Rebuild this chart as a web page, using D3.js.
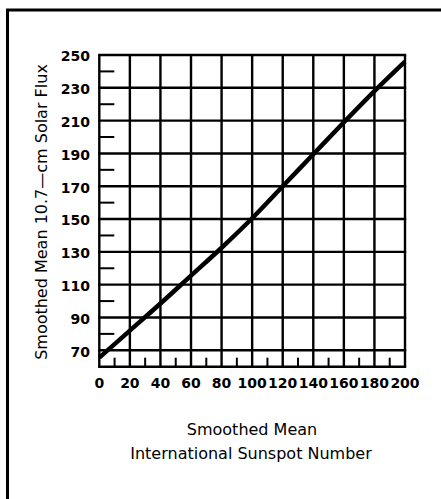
<!DOCTYPE html>
<html>
<head>
<meta charset="utf-8">
<script src="https://cdn.jsdelivr.net/npm/d3@7"></script>
<style>
  body { margin: 0; background: #fff; }
  svg { display: block; }
  .tick-label { font-family: "DejaVu Sans", sans-serif; font-weight: bold; font-size: 14px; fill: #000; }
  .axis-title { font-family: "DejaVu Sans", sans-serif; font-size: 16px; fill: #000; }
</style>
</head>
<body>
<div id="chart"></div>
<script>
// sunspot number vs flux
const sunspot = [0, 20, 40, 60, 80, 100, 120, 140, 160, 180, 200];
const flux = [65.5, 82, 98.5, 115.5, 132.5, 150.5, 170, 189.5, 209, 228, 246];

const xTicks = [0, 20, 40, 60, 80, 100, 120, 140, 160, 180, 200];
const xMinor = [10, 30, 50, 70, 90, 110, 130, 150, 170, 190];
const yTicks = [70, 90, 110, 130, 150, 170, 190, 210, 230, 250];
const yMinor = [80, 100, 120, 140, 160, 180, 200, 220, 240];

const width = 441, height = 499;
const margin = { top: 55, right: 36, bottom: 132.3, left: 99.3 };

const svg = d3.select("#chart").append("svg")
    .attr("width", width)
    .attr("height", height);

// outer frame (right and bottom edges fall outside the picture)
svg.append("rect")
    .attr("x", 7.5)
    .attr("y", 10)
    .attr("width", 600)
    .attr("height", 700)
    .attr("fill", "none")
    .attr("stroke", "#000")
    .attr("stroke-width", 3);

const xScale = d3.scaleLinear().domain([0, 200]).range([margin.left, width - margin.right]);
const yScale = d3.scaleLinear().domain([60, 250]).range([height - margin.bottom, margin.top]);

const g = svg.append("g");

// grid
g.selectAll("line.vgrid")
    .data(xTicks)
    .join("line")
    .attr("class", "vgrid")
    .attr("x1", d => xScale(d))
    .attr("x2", d => xScale(d))
    .attr("y1", yScale(250))
    .attr("y2", yScale(60))
    .attr("stroke", "#000")
    .attr("stroke-width", 2.4);

g.selectAll("line.hgrid")
    .data([60].concat(yTicks))
    .join("line")
    .attr("class", "hgrid")
    .attr("x1", xScale(0))
    .attr("x2", xScale(200))
    .attr("y1", d => yScale(d))
    .attr("y2", d => yScale(d))
    .attr("stroke", "#000")
    .attr("stroke-width", 2.4)
    .attr("stroke-linecap", "square");

// minor ticks
g.selectAll("line.xminor")
    .data(xMinor)
    .join("line")
    .attr("class", "xminor")
    .attr("x1", d => xScale(d))
    .attr("x2", d => xScale(d))
    .attr("y1", yScale(60))
    .attr("y2", yScale(60) - 9)
    .attr("stroke", "#000")
    .attr("stroke-width", 2);

g.selectAll("line.yminor")
    .data(yMinor)
    .join("line")
    .attr("class", "yminor")
    .attr("x1", xScale(0))
    .attr("x2", xScale(0) + 15)
    .attr("y1", d => yScale(d))
    .attr("y2", d => yScale(d))
    .attr("stroke", "#000")
    .attr("stroke-width", 2);

// tick labels
g.selectAll("text.xlab")
    .data(xTicks)
    .join("text")
    .attr("class", "tick-label xlab")
    .attr("x", d => xScale(d))
    .attr("y", 388)
    .attr("text-anchor", "middle")
    .text(d => d);

g.selectAll("text.ylab")
    .data(yTicks)
    .join("text")
    .attr("class", "tick-label ylab")
    .attr("x", 90)
    .attr("y", d => yScale(d) + 1.5)
    .attr("dy", "0.35em")
    .attr("text-anchor", "end")
    .text(d => d);

// the curve
const line = d3.line()
    .x((d, i) => xScale(sunspot[i]))
    .y(d => yScale(d))
    .curve(d3.curveMonotoneX);

g.append("path")
    .datum(flux)
    .attr("d", line)
    .attr("fill", "none")
    .attr("stroke", "#000")
    .attr("stroke-width", 4.5);

// axis titles
svg.append("text")
    .attr("class", "axis-title")
    .attr("x", 252)
    .attr("y", 435)
    .attr("text-anchor", "middle")
    .text("Smoothed Mean");

svg.append("text")
    .attr("class", "axis-title")
    .attr("x", 251)
    .attr("y", 459)
    .attr("text-anchor", "middle")
    .text("International Sunspot Number");

svg.append("text")
    .attr("class", "axis-title")
    .attr("transform", "translate(47,212) rotate(-90)")
    .attr("text-anchor", "middle")
    .text("Smoothed Mean 10.7\u2014cm Solar Flux");
</script>
</body>
</html>
